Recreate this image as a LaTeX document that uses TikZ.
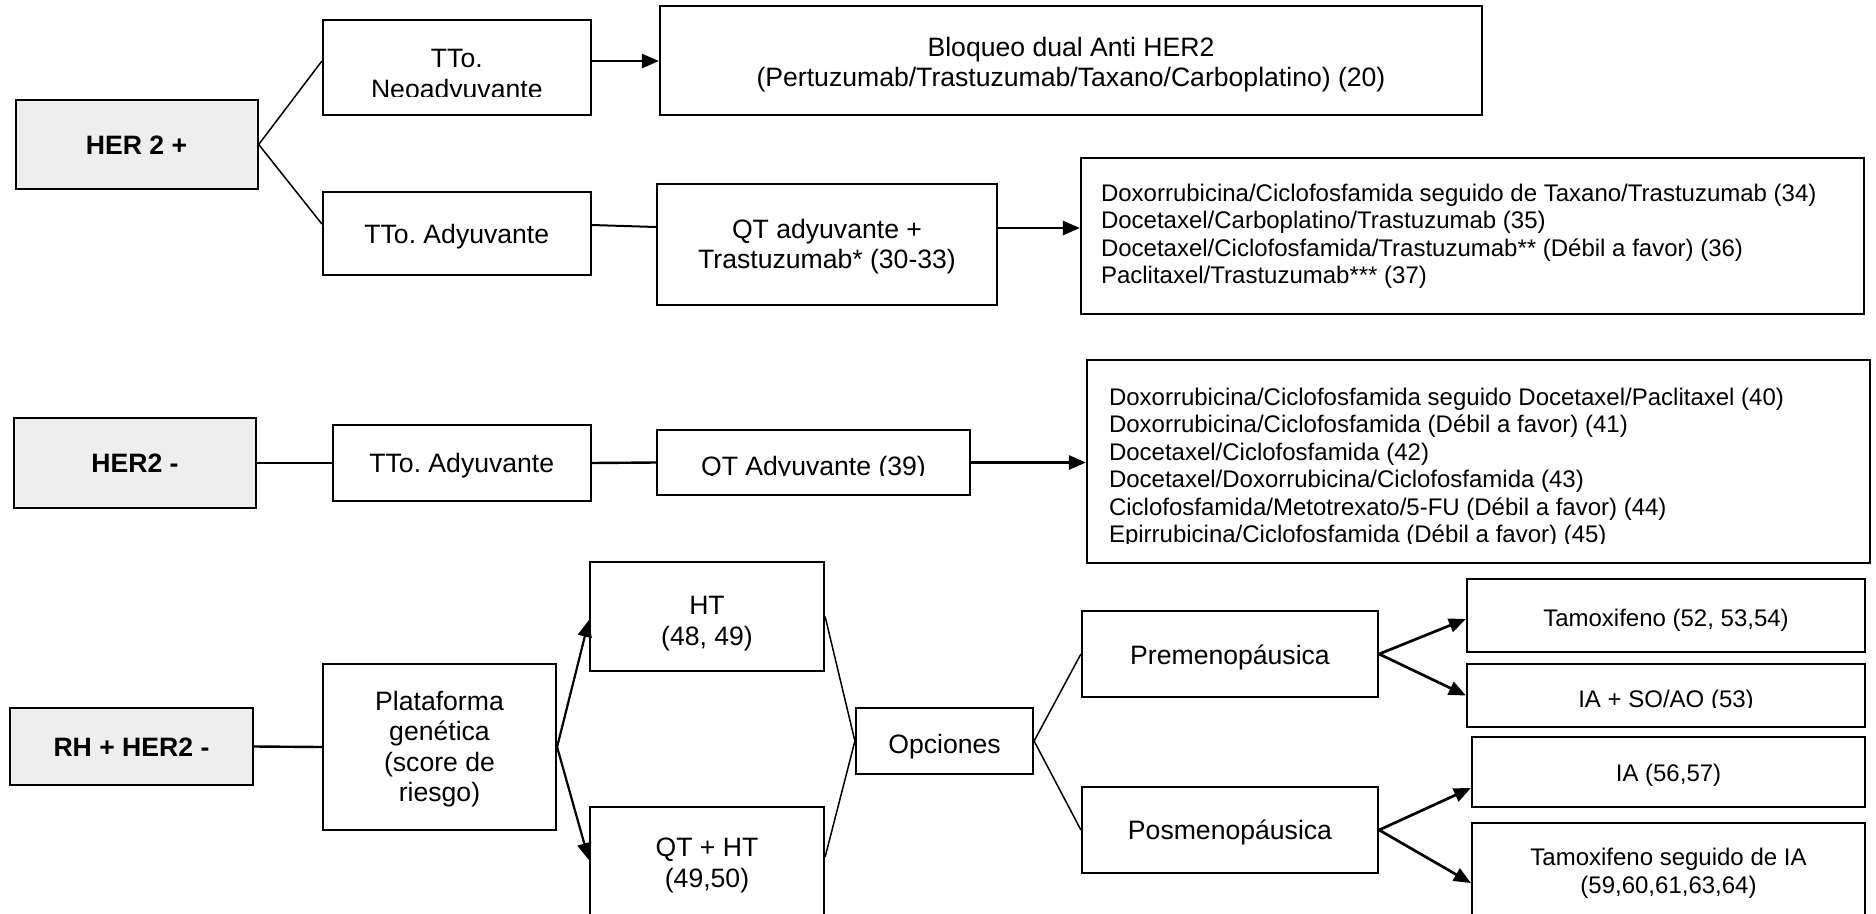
\documentclass[tikz,border=0pt]{standalone}
\usepackage{fontspec}
\setmainfont{Liberation Sans}
\usetikzlibrary{arrows.meta}
\frenchspacing
\definecolor{hdrgray}{RGB}{238,238,238}
% centred lines; #1 = raise of first baseline above node centre
\newcommand{\bt}[3]{\raisebox{#1}[0pt][0pt]{\begin{tabular}[t]{@{}#2@{}}#3\end{tabular}}}
% left-aligned lines; #2 = left offset from node centre
\newcommand{\bl}[3]{\raisebox{#1}[0pt][0pt]{\makebox[0pt][l]{\hspace*{#2}\begin{tabular}[t]{@{}l@{}}#3\end{tabular}}}}
\newcommand{\fbig}{\fontsize{26.6pt}{30.6pt}\selectfont}
\newcommand{\fsml}{\fontsize{24pt}{27.5pt}\selectfont}
\tikzset{
  box/.style={draw, line width=2.2pt, inner sep=0pt, font=\fbig},
  hdr/.style={box, fill=hdrgray, font=\bfseries\fbig},
  sbox/.style={box, font=\fsml},
  inner/.style={draw=none, fill=none, inner sep=0pt},
  thinl/.style={line width=1.5pt},
  thickl/.style={line width=2.4pt},
  arr/.style={line width=2.7pt, -{Triangle[length=17pt,width=14pt]}},
  % text clipped at a line #1 above the bottom edge of the box
  cliptext/.style n args={3}{path picture={
    \clip (path picture bounding box.north west) rectangle ([yshift=#1]path picture bounding box.south east);
    \node[inner, font=#2] at (path picture bounding box.center) {#3};}},
}
\begin{document}
\begin{tikzpicture}[x=1pt,y=-1pt]
\useasboundingbox (0,0) rectangle (1876,913);
\clip (0,0) rectangle (1876,913);
\fill[white] (0,0) rectangle (1876,913);

% ---------- HER 2 + ----------
\node[hdr, minimum width=242pt, minimum height=89pt] (her2p) at (136.6,144.5) {\bt{-10pt}{c}{HER 2 +}};
\node[box, minimum width=267.6pt, minimum height=95pt,
  cliptext={19pt}{\fbig}{\bt{0pt}{c}{TTo.\\Neoadyuvante}}] (neo) at (456.8,67.5) {};
\node[box, minimum width=822pt, minimum height=109pt] (bloq) at (1071,60.5)
  {\bt{4.5pt}{c}{Bloqueo dual Anti HER2\\(Pertuzumab/Trastuzumab/Taxano/Carboplatino) (20)}};
\node[box, minimum width=267.6pt, minimum height=83pt] (ady1) at (456.8,233.5) {\bt{-10pt}{c}{TTo. Adyuvante}};
\node[box, minimum width=340pt, minimum height=121pt] (qt1) at (827,244.5)
  {\bt{6.5pt}{c}{QT adyuvante +\\Trastuzumab* (30-33)}};
\node[sbox, minimum width=783pt, minimum height=156pt] (list1) at (1472.5,236)
  {\bl{35pt}{-371.5pt}{Doxorrubicina/Ciclofosfamida seguido de Taxano/Trastuzumab (34)\\
   Docetaxel/Carboplatino/Trastuzumab (35)\\
   Docetaxel/Ciclofosfamida/Trastuzumab** (Débil a favor) (36)\\
   Paclitaxel/Trastuzumab*** (37)}};

\draw[thinl] (her2p.east) -- ([yshift=6.5pt]neo.west);
\draw[thinl] (her2p.east) -- ([yshift=9.5pt]ady1.west);
\draw[arr] ([yshift=6.5pt]neo.east) -- ([yshift=6.5pt]neo.east -| bloq.west);
\draw[line width=2pt] ([yshift=8.5pt]ady1.east) -- ([yshift=17.5pt]qt1.west);
\draw[arr] ([yshift=16.5pt]qt1.east) -- ([yshift=16.5pt]qt1.east -| list1.west);

% ---------- HER2 - ----------
\node[hdr, minimum width=242pt, minimum height=90pt] (her2m) at (135,463) {\bt{-9.5pt}{c}{HER2 -}};
\node[box, minimum width=257.6pt, minimum height=76pt] (ady2) at (461.8,463) {\bt{-9.5pt}{c}{TTo. Adyuvante}};
\node[box, minimum width=313pt, minimum height=65pt,
  cliptext={20pt}{\fbig}{\bt{-12.5pt}{c}{QT Adyuvante (39)}}] (qt2) at (813.5,462.5) {};
\node[sbox, minimum width=783pt, minimum height=203pt,
  cliptext={19.5pt}{\fsml}{\bl{56.5pt}{-369.5pt}{Doxorrubicina/Ciclofosfamida seguido Docetaxel/Paclitaxel (40)\\
   Doxorrubicina/Ciclofosfamida (Débil a favor) (41)\\
   Docetaxel/Ciclofosfamida (42)\\
   Docetaxel/Doxorrubicina/Ciclofosfamida (43)\\
   Ciclofosfamida/Metotrexato/5-FU (Débil a favor) (44)\\
   Epirrubicina/Ciclofosfamida (Débil a favor) (45)}}] (list2) at (1478.5,461.5) {};

\draw[thickl] (her2m.east) -- (ady2.west);
\draw[thickl] (ady2.east) -- (qt2.west);
\draw[arr] (qt2.east) -- (qt2.east -| list2.west);

% ---------- RH + HER2 - ----------
\node[hdr, minimum width=243pt, minimum height=77pt] (rh) at (131.5,746.5) {\bt{-9.5pt}{c}{RH + HER2 -}};
\node[box, minimum width=233pt, minimum height=166pt] (plat) at (439.5,747)
  {\bt{37pt}{c}{Plataforma\\genética\\(score de\\riesgo)}};
\node[box, minimum width=234pt, minimum height=109pt] (ht) at (707,616.5) {\bt{2pt}{c}{HT\\(48, 49)}};
\node[box, minimum width=234pt, minimum height=143pt] (qtht) at (707,878.5) {\bt{22pt}{c}{QT + HT\\(49,50)}};
\node[box, minimum width=177pt, minimum height=66pt] (opc) at (944.5,741) {\bt{-12pt}{c}{Opciones}};
\node[box, minimum width=296pt, minimum height=86pt] (premen) at (1230,654) {\bt{-10.5pt}{c}{Premenopáusica}};
\node[box, minimum width=296pt, minimum height=86pt] (posmen) at (1230,830) {\bt{-9.5pt}{c}{Posmenopáusica}};
\node[sbox, minimum width=398pt, minimum height=73pt] (tam) at (1666,615.5) {\bt{-11pt}{c}{Tamoxifeno (52, 53,54)}};
\node[sbox, minimum width=398pt, minimum height=63pt,
  cliptext={19.5pt}{\fsml}{\bt{-11.5pt}{c}{IA + SO/AO (53)}}] (iaso) at (1666,695.5) {};
\node[sbox, minimum width=393pt, minimum height=70pt] (ia) at (1668.5,772) {\bt{-9.5pt}{c}{IA (56,57)}};
\node[box, font=\fontsize{24pt}{28pt}\selectfont, minimum width=393pt, minimum height=137pt] (tamia) at (1668.5,891.5)
  {\bt{26.5pt}{c}{Tamoxifeno seguido de IA\\(59,60,61,63,64)}};

\draw[thickl] (rh.east) -- (plat.west);
\draw[arr, line width=2.2pt] (plat.east) -- ([yshift=-3.5pt]ht.west);
\draw[arr, line width=2.2pt] (plat.east) -- ([yshift=18.5pt]qtht.west);
\draw[thinl] (ht.east) -- (opc.west);
\draw[thinl] ([yshift=21.5pt]qtht.east) -- (opc.west);
\draw[thinl] (opc.east) -- (premen.west);
\draw[thinl] (opc.east) -- (posmen.west);
\draw[arr] (premen.east) -- ([yshift=-3.5pt]tam.west);
\draw[arr] (premen.east) -- (iaso.west);
\draw[arr] (posmen.east) -- ([yshift=-16pt]ia.west);
\draw[arr] (posmen.east) -- ([yshift=8.5pt]tamia.west);
\end{tikzpicture}
\end{document}
